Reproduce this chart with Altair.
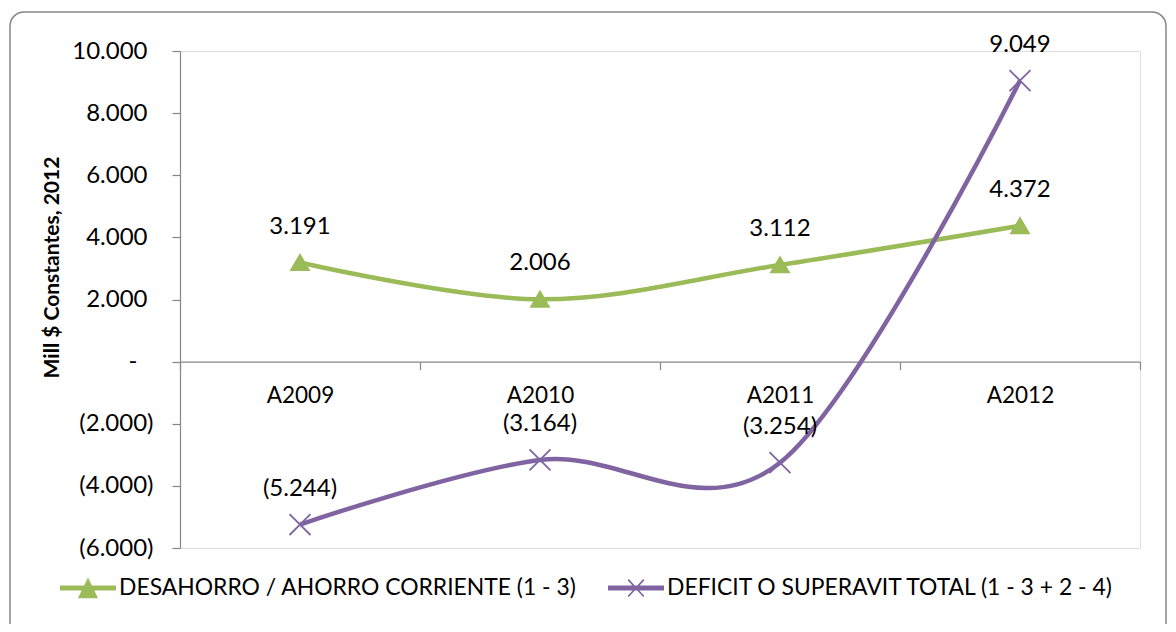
import altair as alt
import pandas as pd
import math

categories = ["A2009", "A2010", "A2011", "A2012"]
ahorro = [3191, 2006, 3112, 4372]
deficit = [-5244, -3164, -3254, 9049]
series_names = ["DESAHORRO / AHORRO CORRIENTE (1 - 3)", "DEFICIT O SUPERAVIT TOTAL (1 - 3 + 2 - 4)"]
y_ticks = [-6000, -4000, -2000, 0, 2000, 4000, 6000, 8000, 10000]

GREEN = "#9BBB59"
PURPLE = "#8064A2"
FONT = "Lato"

rows = []
for i, c in enumerate(categories):
    rows.append({"cat": c, "pos": i + 0.5, "series": series_names[0], "v": ahorro[i]})
for i, c in enumerate(categories):
    rows.append({"cat": c, "pos": i + 0.5, "series": series_names[1], "v": deficit[i]})
df = pd.DataFrame(rows)

W, H = 960, 497
ZERO_FROM_BOTTOM = H * (0 - (-6000)) / 16000.0

cat_js = "[" + ",".join("'%s'" % c for c in categories) + "]"

x_enc = alt.X(
    "pos:Q",
    scale=alt.Scale(domain=[0, 4], nice=False, zero=False),
    axis=alt.Axis(
        title=None, values=[0, 1, 2, 3, 4], grid=False,
        labelExpr="datum.value < 4 ? %s[datum.value] : ''" % cat_js,
        labelOffset=W / 8, labelFlush=False, labelOverlap=False, labelBound=False,
        offset=-ZERO_FROM_BOTTOM, domainColor="#868686", tickColor="#868686",
        tickSize=8, domainWidth=1.2, tickWidth=1.2, labelPadding=15,
        labelFont=FONT, labelFontSize=22.5, labelColor="#000000",
    ),
)
y_enc = alt.Y(
    "v:Q",
    scale=alt.Scale(domain=[-6000, 10000], nice=False, zero=False),
    axis=alt.Axis(
        title="Mill $ Constantes, 2012", values=y_ticks, grid=False,
        labelExpr=("datum.value == 0 ? '-' : (datum.value < 0 ? '(' + format(-datum.value/1000, '.3f') + ')' : format(datum.value/1000, '.3f'))"),
        domainColor="#868686", tickColor="#868686", tickSize=8, domainWidth=1.2, tickWidth=1.2,
        labelPadding={"condition": [{"test": "datum.value == 0", "value": 35},
                                    {"test": "datum.value < 0", "value": 19}],
                      "value": 25},
        labelFont=FONT, labelFontSize=24, labelColor="#000000",
        titleFont=FONT, titleFontSize=21, titleFontWeight="bold", titleColor="#000000",
        titleAngle=270, titleAlign="center", titleBaseline="middle",
        titleX=-128, titleY=216,
    ),
)

base = alt.Chart(df).encode(x=x_enc, y=y_enc)

def sel(i):
    return alt.datum.series == series_names[i]

green_line = base.transform_filter(sel(0)).mark_line(
    color=GREEN, strokeWidth=4.5, interpolate="cardinal", tension=0)
purple_line = base.transform_filter(sel(1)).mark_line(
    color=PURPLE, strokeWidth=4.5, interpolate="cardinal", tension=0)

TRI = "M0,-0.9L1,0.8L-1,0.8Z"
XSHAPE = "M-1,-1L1,1M-1,1L1,-1"
green_pts = base.transform_filter(sel(0)).mark_point(
    shape=TRI, filled=True, color=GREEN, size=441, opacity=1)
purple_pts = base.transform_filter(sel(1)).mark_point(
    shape=XSHAPE, filled=False, color=PURPLE, size=440, strokeWidth=1.8, opacity=1)

labels = base.transform_calculate(
    lab="datum.v == 0 ? '-' : (datum.v < 0 ? '(' + format(-datum.v/1000, '.3f') + ')' : format(datum.v/1000, '.3f'))"
).mark_text(font=FONT, fontSize=24, color="#000000", dy=-36, baseline="middle", align="center").encode(
    text="lab:N")


# legend symbols (line + marker), as filled paths
def poly(pts):
    area = 0
    for k in range(len(pts)):
        x1, y1 = pts[k]
        x2, y2 = pts[(k + 1) % len(pts)]
        area += x1 * y2 - x2 * y1
    if area < 0:
        pts = pts[::-1]
    return "M" + "L".join("%.3f,%.3f" % p for p in pts) + "Z"

def bar(x1, y1, x2, y2, hw):
    dx, dy = x2 - x1, y2 - y1
    L = math.hypot(dx, dy)
    nx, ny = -dy / L * hw, dx / L * hw
    return poly([(x1 + nx, y1 + ny), (x2 + nx, y2 + ny), (x2 - nx, y2 - ny), (x1 - nx, y1 - ny)])

line_part = poly([(-1, -0.09), (1, -0.09), (1, 0.09), (-1, 0.09)])
tri_part = poly([(0, -0.38), (0.36, 0.36), (-0.36, 0.36)])
x_part = bar(-0.28, -0.3, 0.28, 0.3, 0.03) + bar(-0.28, 0.3, 0.28, -0.3, 0.03)
LEG_GREEN = line_part + tri_part
LEG_PURPLE = line_part + x_part

leg = dict(
    title=None, orient="none", legendX=-120, legendY=509, direction="horizontal",
    symbolSize=3136, symbolStrokeWidth=0, labelFont=FONT, labelFontSize=22.9,
    labelColor="#000000", labelLimit=800, labelOffset=3, columnPadding=31,
    padding=0, symbolOpacity=1)

legend_layer = alt.Chart(df).transform_filter("false").mark_point(filled=True, opacity=1).encode(
    color=alt.Color("series:N", scale=alt.Scale(domain=series_names, range=[GREEN, PURPLE]),
                    legend=alt.Legend(**leg)),
    shape=alt.Shape("series:N", scale=alt.Scale(domain=series_names, range=[LEG_GREEN, LEG_PURPLE]),
                    legend=alt.Legend(**leg)),
)

border = alt.Chart(pd.DataFrame({"k": [0]})).mark_rect(
    fill="transparent", stroke="#868686", strokeWidth=1.5, cornerRadius=14
).encode(x=alt.value(-170), x2=alt.value(986), y=alt.value(-39), y2=alt.value(600))

chart = alt.layer(
    border, green_line, purple_line, green_pts, purple_pts, labels, legend_layer
).properties(
    width=W, height=H,
    autosize=alt.AutoSizeParams(type="none"),
    padding={"left": 172, "top": 43, "right": 28, "bottom": 76},
).configure_view(stroke=None).configure(background="white")

chart.save("out.html", embed_options={"renderer": "svg", "actions": False})
